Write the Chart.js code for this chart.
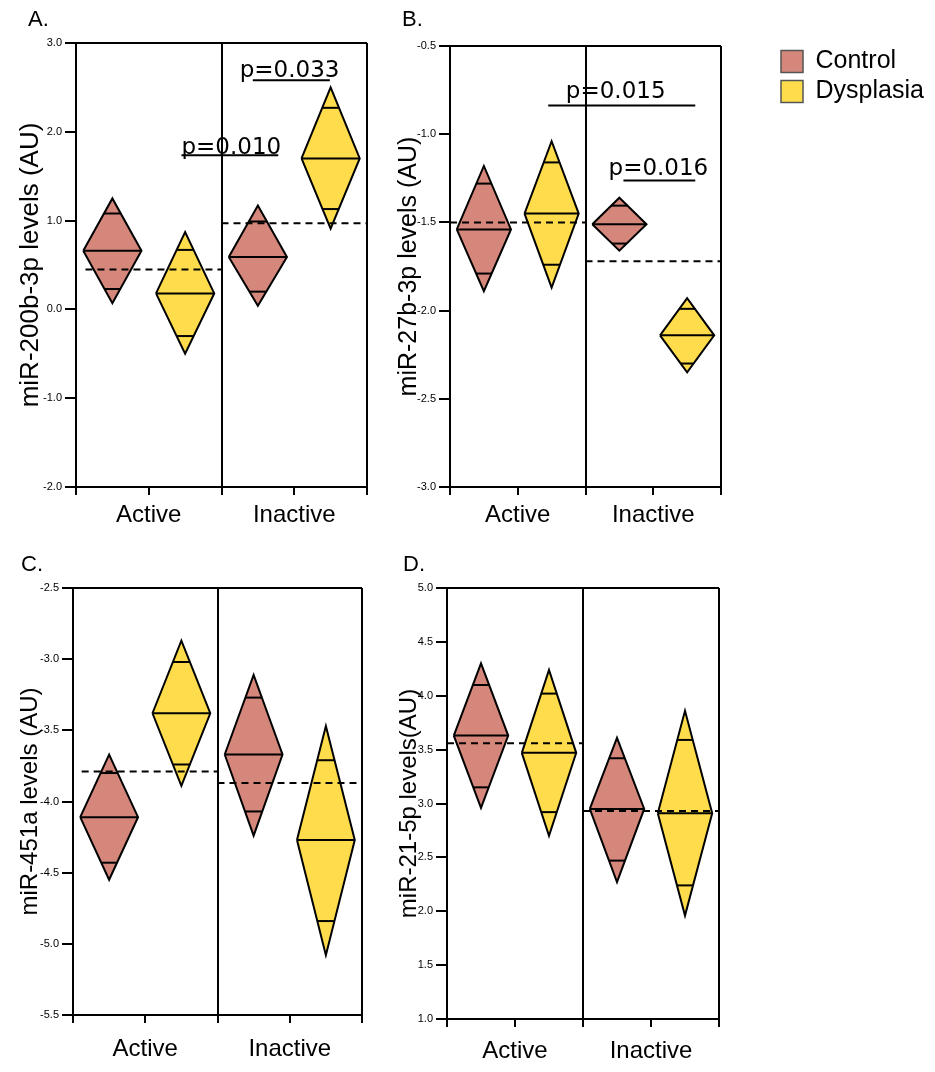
<!DOCTYPE html>
<html>
<head>
<meta charset="utf-8">
<script src="https://cdn.jsdelivr.net/npm/chart.js@4.4.0/dist/chart.umd.min.js"></script>
<style>
  body { margin: 0; background: #fff; }
  #wrap { position: relative; width: 935px; height: 1072px; overflow: hidden; }
  .panel { position: absolute; }
</style>
</head>
<body>
<div id="wrap">
  <div class="panel" style="left:0;top:0;width:380px;height:530px"><canvas id="chartA"></canvas></div>
  <div class="panel" style="left:380px;top:0;width:380px;height:530px"><canvas id="chartB"></canvas></div>
  <div class="panel" style="left:0;top:530px;width:380px;height:542px"><canvas id="chartC"></canvas></div>
  <div class="panel" style="left:380px;top:530px;width:380px;height:542px"><canvas id="chartD"></canvas></div>
  <div class="panel" style="left:776px;top:44px;width:340px;height:80px"><canvas id="legend"></canvas></div>
</div>
<script>
const categories = ['Active', 'Inactive'];
const groups = ['Control', 'Dysplasia'];

// order in every array: Control/Active, Dysplasia/Active, Control/Inactive, Dysplasia/Inactive
const aMean = [0.66, 0.18, 0.59, 1.70];
const aCiHigh = [1.25, 0.87, 1.17, 2.50];
const aCiLow = [0.07, -0.50, 0.04, 0.91];
const aMarkHigh = [1.08, 0.67, 0.99, 2.27];
const aMarkLow = [0.23, -0.30, 0.20, 1.13];
const aGrandMean = [0.45, 0.97];
const aPLabels = ['p=0.010', 'p=0.033'];

const bMean = [-1.54, -1.45, -1.51, -2.14];
const bCiHigh = [-1.18, -1.04, -1.36, -1.93];
const bCiLow = [-1.89, -1.87, -1.66, -2.35];
const bMarkHigh = [-1.28, -1.16, -1.405, -1.99];
const bMarkLow = [-1.79, -1.74, -1.62, -2.30];
const bGrandMean = [-1.50, -1.72];
const bPLabels = ['p=0.015', 'p=0.016'];

const cMean = [-4.11, -3.38, -3.67, -4.27];
const cCiHigh = [-3.67, -2.87, -3.11, -3.47];
const cCiLow = [-4.55, -3.89, -4.24, -5.08];
const cMarkHigh = [-3.80, -3.02, -3.27, -3.71];
const cMarkLow = [-4.43, -3.74, -4.07, -4.84];
const cGrandMean = [-3.79, -3.87];

const dMean = [3.63, 3.47, 2.95, 2.91];
const dCiHigh = [4.30, 4.24, 3.61, 3.86];
const dCiLow = [2.96, 2.70, 2.27, 1.96];
const dMarkHigh = [4.10, 4.02, 3.42, 3.59];
const dMarkLow = [3.15, 2.92, 2.47, 2.24];
const dGrandMean = [3.56, 2.93];

const colors = ['#d4877a', '#fedc4b'];
const halfWidth = 0.4;
const sans = '"Liberation Sans", Arial, sans-serif';
Chart.defaults.font.family = sans;
Chart.defaults.color = '#000';

function line(points, extra) {
  return Object.assign({
    data: points, borderColor: '#000', borderWidth: 2, pointRadius: 0,
    pointHitRadius: 0, tension: 0, fill: false, order: 1
  }, extra);
}

function buildDatasets(mean, ciHigh, ciLow, markHigh, markLow, grand, dashStart) {
  const sets = [];
  mean.forEach((m, i) => {
    const grp = i % 2, cat = Math.floor(i / 2);
    const x = cat * 2 + grp + 0.5;
    const hw = halfWidth;
    sets.push(line([
      {x: x - hw, y: m}, {x: x, y: ciHigh[i]}, {x: x + hw, y: m},
      {x: x, y: ciLow[i]}, {x: x - hw, y: m}
    ], {backgroundColor: colors[grp], fill: 'shape', order: 3}));
    sets.push(line([{x: x - hw, y: m}, {x: x + hw, y: m}]));
    const wh = hw * (ciHigh[i] - markHigh[i]) / (ciHigh[i] - m);
    sets.push(line([{x: x - wh, y: markHigh[i]}, {x: x + wh, y: markHigh[i]}]));
    const wl = hw * (markLow[i] - ciLow[i]) / (m - ciLow[i]);
    sets.push(line([{x: x - wl, y: markLow[i]}, {x: x + wl, y: markLow[i]}]));
  });
  grand.forEach((g, c) => {
    const x0 = c === 0 ? dashStart : 2;
    sets.push(line([{x: x0, y: g}, {x: c * 2 + 2, y: g}], {borderDash: [7, 5], order: 0}));
  });
  return sets;
}

const decor = {
  id: 'decor',
  afterDraw(chart, args, opts) {
    const ctx = chart.ctx;
    const xs = chart.scales.x, ys = chart.scales.y;
    ctx.save();
    ctx.fillStyle = '#000';
    ctx.strokeStyle = '#000';
    ctx.textAlign = 'left';
    ctx.textBaseline = 'alphabetic';
    ctx.font = '22px ' + sans;
    ctx.fillText(opts.letter, opts.letterX, opts.letterY);
    ctx.font = '23px "DejaVu Sans"';
    (opts.marks || []).forEach((m, i) => {
      ctx.fillText(opts.labels[i], xs.getPixelForValue(m.textX), ys.getPixelForValue(m.textY));
      ctx.beginPath();
      ctx.lineWidth = 2;
      ctx.moveTo(xs.getPixelForValue(m.x1), ys.getPixelForValue(m.y));
      ctx.lineTo(xs.getPixelForValue(m.x2), ys.getPixelForValue(m.y));
      ctx.stroke();
    });
    ctx.restore();
  }
};

function makePanel(p) {
  const frameX = [0, 2, 4];
  return new Chart(document.getElementById(p.id), {
    type: 'line',
    data: { datasets: buildDatasets(p.mean, p.ciHigh, p.ciLow, p.markHigh, p.markLow, p.grand, p.dashStart) },
    plugins: [decor],
    options: {
      responsive: true,
      maintainAspectRatio: false,
      animation: false,
      events: [],
      layout: { padding: { left: 0, top: p.top, right: p.right, bottom: 0 } },
      scales: {
        x: {
          type: 'linear', min: 0, max: 4,
          afterFit: s => { s.height = p.xHeight; },
          ticks: {
            stepSize: 1, autoSkip: false, maxRotation: 0, padding: p.labelPad,
            font: { size: 24 },
            callback: v => (v % 2 === 1 ? categories[(v - 1) / 2] : '')
          },
          grid: {
            drawOnChartArea: true, tickLength: 8, lineWidth: 2, tickWidth: 2, tickColor: '#000',
            color: c => (frameX.includes(c.tick.value) ? '#000' : 'rgba(0,0,0,0)')
          },
          border: { display: true, color: '#000', width: 2 }
        },
        y: {
          type: 'linear', min: p.yMin, max: p.yMax,
          afterFit: s => { s.width = p.yWidth; },
          title: {
            display: true, text: p.title, color: '#000',
            font: { size: p.titleSize }, padding: { top: p.titlePad, bottom: 0 }
          },
          ticks: {
            stepSize: p.yStep, padding: 3, font: { size: 11 },
            callback: v => v.toFixed(1)
          },
          grid: {
            drawOnChartArea: true, tickLength: 11, lineWidth: 2, tickWidth: 2, tickColor: '#000',
            color: c => (Math.abs(c.tick.value - p.yMax) < 1e-9 ? '#000' : 'rgba(0,0,0,0)')
          },
          border: { display: true, color: '#000', width: 2 }
        }
      },
      plugins: {
        legend: { display: false },
        tooltip: { enabled: false },
        decor: {
          letter: p.letter, letterX: p.letterX, letterY: p.letterY,
          labels: p.pLabels, marks: p.pMarks
        }
      }
    }
  });
}

makePanel({
  id: 'chartA', letter: 'A.', letterX: 28, letterY: 26,
  title: 'miR-200b-3p levels (AU)', titleSize: 26, titlePad: 15,
  yMin: -2, yMax: 3, yStep: 1,
  mean: aMean, ciHigh: aCiHigh, ciLow: aCiLow, markHigh: aMarkHigh, markLow: aMarkLow, grand: aGrandMean,
  pLabels: aPLabels,
  pMarks: [
    {textX: 1.45, textY: 1.745, x1: 1.45, x2: 2.78, y: 1.735},
    {textX: 2.25, textY: 2.62, x1: 2.43, x2: 3.49, y: 2.58}
  ],
  top: 43, right: 13, yWidth: 76, xHeight: 43, labelPad: 6, dashStart: 0.13
});

makePanel({
  id: 'chartB', letter: 'B.', letterX: 22, letterY: 26,
  title: 'miR-27b-3p levels (AU)', titleSize: 25, titlePad: 14,
  yMin: -3, yMax: -0.5, yStep: 0.5,
  mean: bMean, ciHigh: bCiHigh, ciLow: bCiLow, markHigh: bMarkHigh, markLow: bMarkLow, grand: bGrandMean,
  pLabels: bPLabels,
  pMarks: [
    {textX: 1.71, textY: -0.793, x1: 1.45, x2: 3.62, y: -0.837},
    {textX: 2.34, textY: -1.233, x1: 2.56, x2: 3.62, y: -1.262}
  ],
  top: 46, right: 39, yWidth: 70, xHeight: 43, labelPad: 6, dashStart: 0
});

makePanel({
  id: 'chartC', letter: 'C.', letterX: 21, letterY: 41,
  title: 'miR-451a levels (AU)', titleSize: 24, titlePad: 16,
  yMin: -5.5, yMax: -2.5, yStep: 0.5,
  mean: cMean, ciHigh: cCiHigh, ciLow: cCiLow, markHigh: cMarkHigh, markLow: cMarkLow, grand: cGrandMean,
  pLabels: [], pMarks: [],
  top: 58, right: 18, yWidth: 73, xHeight: 57, labelPad: 12, dashStart: 0.12
});

makePanel({
  id: 'chartD', letter: 'D.', letterX: 23, letterY: 41,
  title: 'miR-21-5p levels(AU)', titleSize: 24, titlePad: 15,
  yMin: 1, yMax: 5, yStep: 0.5,
  mean: dMean, ciHigh: dCiHigh, ciLow: dCiLow, markHigh: dMarkHigh, markLow: dMarkLow, grand: dGrandMean,
  pLabels: [], pMarks: [],
  top: 58, right: 41, yWidth: 67, xHeight: 53, labelPad: 10, dashStart: 0
});

new Chart(document.getElementById('legend'), {
  type: 'line',
  data: {
    datasets: groups.map((g, i) => ({
      label: g, data: [], backgroundColor: colors[i], borderColor: '#555', borderWidth: 1.5
    }))
  },
  options: {
    responsive: true,
    maintainAspectRatio: false,
    animation: false,
    events: [],
    scales: { x: { display: false }, y: { display: false } },
    plugins: {
      tooltip: { enabled: false },
      legend: {
        position: 'left', align: 'start',
        labels: { boxWidth: 22, boxHeight: 22, padding: 5, color: '#000', font: { size: 25 } }
      }
    }
  }
});
</script>
</body>
</html>
